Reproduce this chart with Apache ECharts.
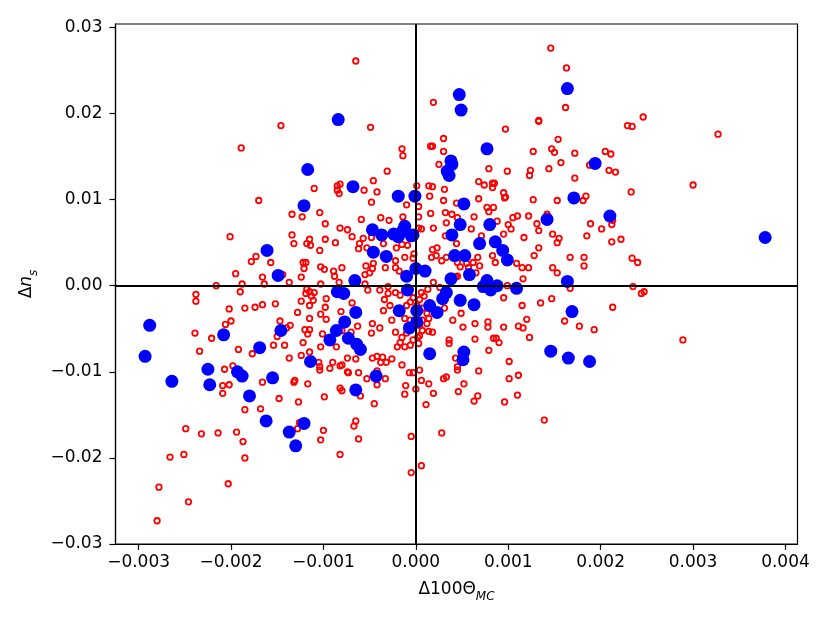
<!DOCTYPE html>
<html>
<head>
<meta charset="utf-8">
<script src="https://cdn.jsdelivr.net/npm/echarts@6/dist/echarts.min.js"></script>
<style>
  html, body { margin: 0; padding: 0; background: #fff; }
  #chart { width: 830px; height: 623px; }
</style>
</head>
<body>
<div id="chart"></div>
<script>
"use strict";

// tick positions
var xTicks = [-0.003, -0.002, -0.001, 0.000, 0.001, 0.002, 0.003, 0.004];
var yTicks = [-0.03, -0.02, -0.01, 0.00, 0.01, 0.02, 0.03];

// open red circles  [d100theta, dns]
var openPoints = [
  [-0.00146,0.0186],[-0.00189,0.016],[-0.0011,0.0113],[-0.00085,0.0116],[-0.00085,0.0111],[-0.00083,0.0107],[-0.0017,0.0099],
  [-0.00065,0.0261],[0.00146,0.0276],[0.00163,0.0253],[0.00019,0.0213],[-0.00049,0.0184],[0.00162,0.0207],[0.00097,0.0182],
  [0.00133,0.0192],[0.00133,0.0191],[0.0003,0.0171],[0.00016,0.0162],[0.00018,0.0162],[0.0003,0.0156],[-0.00015,0.0159],
  [-0.00014,0.0151],[0.00154,0.017],[0.00127,0.0156],[0.00147,0.0159],[0.0015,0.0155],[0.00157,0.0143],[0.00025,0.0141],
  [-0.00031,0.0133],[0.00079,0.0136],[0.00099,0.0133],[0.00124,0.0134],[0.00123,0.0128],[0.00144,0.0136],[-0.00046,0.0122],
  [-0.00056,0.0111],[-0.00042,0.0109],[0.00001,0.0116],[0.00014,0.0116],[0.00018,0.0115],[0.00031,0.0112],[0.00015,0.0104],
  [0.00068,0.0121],[0.00074,0.0117],[0.00083,0.0119],[0.00085,0.0119],[0.00083,0.0114],[0.00095,0.0108],[0.00097,0.0103],
  [-0.00082,0.0118],[0.00127,0.01],[0.00153,0.0099],[0.00172,0.0125],[0.00172,0.0154],
  [0.00246,0.0196],[0.00229,0.0186],[0.00234,0.0185],[0.00327,0.0176],[0.00205,0.0156],[0.00211,0.0153],[0.00188,0.014],
  [0.00209,0.0134],[0.00216,0.0132],[0.003,0.0117],[0.00233,0.0109],[0.00184,0.0104],
  [-0.00134,0.0083],[-0.00123,0.008],[-0.00104,0.0085],[-0.00098,0.0072],[-0.00082,0.0067],[-0.00201,0.0057],[-0.00134,0.0059],
  [-0.00132,0.0049],[-0.00118,0.0049],[-0.00115,0.0054],[-0.00114,0.0047],[-0.00098,0.0054],[-0.00087,0.005],[-0.00104,0.0041],
  [-0.00173,0.0034],[-0.00178,0.0028],[-0.00157,0.0027],[-0.00122,0.0027],[-0.00119,0.0027],[-0.00121,0.002],[-0.00103,0.0022],
  [-0.00099,0.0019],[-0.00089,0.0017],[-0.00088,0.0011],[-0.0008,0.0021],[-0.00195,0.0014],[-0.00166,0.001],[-0.00164,0.0002],
  [-0.00144,0.0013],[-0.00137,0.0004],[-0.00124,0.001],[-0.00103,0.0002],[-0.00083,0.0004],[-0.00216,0.0],[-0.00188,0.0002],
  [-0.0019,-0.0007],[-0.00238,-0.001],[-0.00238,-0.0018],[-0.00118,-0.0004],[-0.00115,-0.0007],[-0.0011,-0.0008],[-0.00119,-0.0009],
  [-0.00113,-0.0012],[-0.00111,-0.0017],[-0.00097,-0.0015],[-0.00124,-0.0018],[-0.00115,-0.0023],[-0.00098,-0.0025],[-0.00202,-0.0027],
  [-0.00185,-0.0026],[-0.00174,-0.0025],[-0.00166,-0.0022],[-0.00152,-0.0021],[-0.00128,-0.0031],[-0.00103,-0.0033],[-0.00097,-0.0039],
  [-0.00081,-0.003],[-0.00115,-0.0038],[-0.002,-0.0041],[-0.00206,-0.0045],[-0.00147,-0.0041],[-0.00136,-0.0046],[-0.0014,-0.0049],
  [-0.0012,-0.0051],[-0.00115,-0.0051],[-0.00117,-0.0056],[-0.00101,-0.0056],[-0.00239,-0.0055],[-0.00221,-0.0061],[-0.0015,-0.0059],
  [-0.00122,-0.0066],[-0.00154,-0.0069],[-0.00142,-0.0069],[-0.00103,-0.0071],[-0.00086,-0.0071],[-0.00192,-0.0074],[-0.00234,-0.0076],
  [-0.00177,-0.0079],[-0.00115,-0.0077],[-0.00124,-0.0081],[-0.00137,-0.0084],[-0.00105,-0.0089],[-0.0009,-0.0089],[-0.00104,-0.0094],
  [-0.00093,-0.0096],[-0.00082,-0.0093],[-0.00207,-0.0097],[-0.00198,-0.0093],
  [-0.00166,-0.0112],[-0.00209,-0.0116],[-0.00202,-0.0115],[-0.00209,-0.0125],[-0.00132,-0.0112],[-0.00131,-0.011],[-0.00117,-0.0114],
  [-0.00104,-0.0098],[-0.00082,-0.0119],[-0.0008,-0.0122],[-0.00148,-0.0131],[-0.00127,-0.0135],[-0.00099,-0.0129],[-0.00185,-0.0144],
  [-0.00168,-0.0143],[-0.00126,-0.0159],[-0.00128,-0.0166],[-0.00249,-0.0166],[-0.00232,-0.0172],[-0.00214,-0.0171],[-0.00194,-0.017],
  [-0.00187,-0.0181],[-0.001,-0.0168],[-0.00103,-0.0179],[-0.00082,-0.0196],[-0.00266,-0.0199],[-0.00251,-0.0196],[-0.00185,-0.02],
  [-0.00203,-0.023],[-0.00278,-0.0234],[-0.00246,-0.0251],[-0.0028,-0.0273],
  [-0.00073,-0.0101],[-0.00062,-0.0101],[-0.00053,-0.0108],[-0.00042,-0.0115],[-0.00033,-0.0108],[-0.0006,-0.0128],[-0.00045,-0.0137],
  [-0.00007,-0.0101],[-0.00003,-0.0101],[0.00004,-0.0098],[-0.00011,-0.0116],[-0.00012,-0.0126],[0.0,-0.012],[0.00006,-0.011],
  [0.00014,-0.0114],[0.00019,-0.0125],[0.00011,-0.0138],[0.0003,-0.0108],[0.00033,-0.0106],[0.00046,-0.0123],[0.00052,-0.0114],
  [0.00045,-0.0098],[0.00063,-0.0134],[0.00067,-0.0128],[0.00068,-0.0099],[0.00096,-0.0135],[0.00101,-0.0108],[0.00111,-0.0104],
  [0.0011,-0.0127],[0.00139,-0.0156],[-0.00065,-0.0157],[-0.00067,-0.0163],[-0.00062,-0.0178],[-0.00005,-0.0175],[0.00028,-0.0171],
  [0.00006,-0.0209],[-0.00005,-0.0217],
  [0.00181,0.0099],[0.00213,0.0076],[0.00212,0.0071],[0.00189,0.0072],[0.00201,0.0066],[0.00185,0.0058],[0.00212,0.0051],
  [0.00222,0.0054],[0.00167,0.0033],[0.00182,0.0033],[0.00182,0.0023],[0.00234,0.0032],[0.0024,0.0027],[0.00235,-0.0001],
  [0.00244,-0.0009],[0.00247,-0.0007],[0.00167,-0.0003],[0.00213,-0.0025],[0.00177,-0.0047],[0.00193,-0.0051],[0.00289,-0.0063],
  [-0.00048,0.0097],[-0.0001,0.0094],[0.00003,0.0092],[0.00016,0.0084],[0.0003,0.0099],[0.00044,0.0096],[0.00068,0.0101],
  [0.00096,0.0102],[0.00077,0.0091],[0.00084,0.0091],[0.00079,0.0086],[-0.00059,0.0077],[-0.00038,0.0079],[-0.00029,0.0076],
  [-0.00014,0.008],[-0.00013,0.0073],[0.00003,0.008],[0.00003,0.0067],[0.00006,0.0066],[0.00019,0.0067],[0.00032,0.0085],
  [0.00039,0.0083],[0.00033,0.0073],[0.00045,0.0079],[0.00063,0.008],[0.0006,0.0066],[0.00088,0.0075],[0.001,0.0071],
  [0.00103,0.0066],[0.00105,0.0079],[0.0011,0.0081],[0.00122,0.0081],[0.00142,0.0083],[0.00131,0.0072],[0.00133,0.0064],
  [0.00148,0.006],[0.00153,0.005],[0.00155,0.0055],[0.00117,0.0056],[0.00095,0.006],[0.00071,0.0058],[0.00032,0.0058],
  [0.00044,0.0049],[-0.00074,0.0065],[-0.00069,0.0057],[-0.00057,0.0055],[-0.00048,0.0056],[-0.00061,0.0049],[-0.00053,0.0044],
  [-0.00062,0.0043],[-0.00035,0.0049],[-0.00021,0.0044],[-0.00015,0.0048],[-0.00009,0.0047],[-0.00002,0.0037],[-0.00003,0.0032],
  [-0.00012,0.0033],[-0.00022,0.0029],[-0.00022,0.0021],[-0.00018,0.0017],[-0.00033,0.0021],[-0.00046,0.0026],[-0.00047,0.002],
  [-0.00054,0.0023],[-0.0005,0.0015],[-0.00055,0.0013],[0.00018,0.0042],[0.00023,0.0044],[0.00017,0.0033],[0.00022,0.0035],
  [0.00028,0.0029],[0.00033,0.0033],[0.00045,0.0027],[0.00055,0.0026],[0.00062,0.0027],[0.00057,0.0021],[0.00067,0.0033],
  [0.00069,0.0023],[0.00065,0.0015],[0.00048,0.0022],[0.00043,0.001],[0.00045,0.0011],[0.00083,0.0035],[0.00086,0.0027],
  [0.00109,0.0026],[0.00115,0.0021],[0.00122,0.0021],[0.00116,0.0008],[0.00128,0.0035],[0.00133,0.0044],[0.00148,0.0021],
  [0.00153,0.0015],[0.00099,0.0],[0.00095,-0.0014],[0.00115,-0.0023],[0.00135,-0.002],[0.00147,-0.0015],[0.00161,-0.0041],
  [0.0012,-0.0039],[0.00111,-0.0047],[0.00116,-0.0049],[0.00123,-0.006],[0.00095,-0.0048],[0.00078,-0.0042],[0.00078,-0.0048],
  [0.00084,-0.0061],[0.0009,-0.0066],[0.00087,-0.0061],[0.00064,-0.0062],[0.00051,-0.0048],[0.0004,-0.004],[0.00031,-0.0026],
  [0.00049,-0.0032],[0.00064,-0.0044],[0.00036,-0.0063],[0.00036,-0.0067],[0.00079,-0.0075],[0.00101,-0.0088],[0.00045,-0.0094],
  [0.00043,-0.0084],[0.00026,-0.0002],[0.00019,0.0004],[0.00013,-0.0004],[0.00006,-0.0008],[0.00009,-0.0012],[0.00004,-0.0016],
  [-0.00003,-0.0014],[-0.00006,-0.0019],[-0.0001,-0.0023],[0.00001,-0.0023],[0.00007,-0.0026],[0.00012,-0.0032],[0.00014,-0.0038],
  [0.00007,-0.004],[0.00012,-0.0044],[0.00004,-0.0046],[0.00007,-0.0052],[0.00014,-0.0053],[0.00018,-0.0054],[0.00004,-0.0058],
  [0.00002,-0.006],[-0.00003,-0.0063],[0.00003,-0.0067],[-0.00006,-0.0069],[-0.0001,-0.0055],[-0.00006,-0.004],[-0.00012,-0.0038],
  [-0.00017,-0.0011],[-0.00022,-0.0008],[-0.0003,-0.0009],[-0.00034,-0.0016],[-0.00028,-0.0023],[-0.00035,-0.0029],[-0.00026,-0.004],
  [-0.00022,-0.0054],[-0.00015,-0.006],[-0.00017,-0.0066],[-0.00012,-0.0071],[-0.0002,-0.0071],[-0.00026,-0.0085],[-0.00036,-0.0083],
  [-0.00042,-0.0082],[-0.00047,-0.0084],[-0.00038,-0.0089],[-0.00032,-0.0089],[-0.00015,-0.0092],[-0.00042,-0.0099],[-0.00074,-0.0084],
  [-0.00065,-0.0085],[-0.0008,-0.0092],[-0.00074,-0.01],[-0.00048,-0.0055],[-0.00039,-0.0049],[-0.00047,-0.0044],[-0.00063,-0.0047],
  [-0.0007,-0.0054],[-0.0008,-0.0052],[-0.00069,-0.002],[-0.00055,0.0002],[-0.00052,-0.0005],[-0.0003,-0.0001],[-0.00039,-0.0005]
];

// filled blue dots
var filledPoints = [
  [-0.00288,-0.0046],[-0.00293,-0.0082],[-0.00264,-0.0111],[-0.00208,-0.0057],[-0.00225,-0.0097],[-0.00223,-0.0115],
  [-0.00193,-0.01],[-0.00188,-0.0105],[-0.0018,-0.0128],[-0.00169,-0.0072],[-0.00155,-0.0107],[-0.00161,0.0041],
  [-0.00149,0.0012],[-0.00146,-0.0052],[-0.00162,-0.0157],[-0.00137,-0.017],[-0.0013,-0.0186],[-0.00121,-0.016],
  [-0.00121,0.0093],[-0.00117,0.0135],[-0.00114,-0.0088],[-0.00084,0.0193],[-0.00093,-0.0063],[-0.00085,-0.0007],
  [-0.00078,-0.0009],[-0.00086,-0.0052],[-0.00077,-0.0042],[-0.00068,0.0115],[-0.00066,0.0006],[-0.00065,-0.0031],
  [-0.00065,-0.0121],[-0.00064,-0.0068],[-0.0006,-0.0074],[-0.00073,-0.0061],[-0.00047,0.0065],[-0.00046,0.0039],
  [-0.00043,-0.0105],[-0.00037,0.0059],[-0.00032,0.0034],[-0.00024,0.006],[-0.00019,0.0104],[-0.00019,0.0057],
  [-0.00014,0.0064],[-0.00012,0.0069],[-0.00005,0.0058],[-0.00001,0.0104],[-0.00018,-0.0029],[-0.0001,0.0011],
  [-0.00009,-0.0005],[-0.00007,-0.0049],[-0.00003,0.0059],[0.0,0.002],[0.00001,-0.0029],[0.00001,-0.0042],
  [0.0001,0.0017],[0.00015,-0.0023],[0.00015,-0.0079],[0.00023,-0.0031],[0.00029,-0.0015],[0.00033,-0.0008],
  [0.00034,0.0133],[0.00036,0.0128],[0.00038,0.0145],[0.00039,0.0141],[0.00039,0.0059],[0.00038,0.0008],
  [0.00042,0.0035],[0.00047,0.0222],[0.00049,0.0204],[0.00048,0.0071],[0.00048,-0.0017],[0.00051,-0.0086],
  [0.00052,-0.0077],[0.00052,0.0095],[0.00053,0.0035],[0.00058,0.0013],[0.00063,-0.0022],[0.00069,0.0049],
  [0.00073,-0.0001],[0.00077,0.0159],[0.0008,0.0071],[0.00081,-0.0005],[0.00086,0.0051],[0.00088,0.0],
  [0.00094,0.0041],[0.00099,0.003],[0.00109,-0.0003],[0.00142,0.0077],[0.00146,-0.0076],[0.00164,0.0229],
  [0.00164,0.0005],[0.00165,-0.0084],[0.00169,-0.003],[0.00171,0.0102],[0.00188,-0.0088],[0.00194,0.0142],
  [0.0021,0.0081],[0.00378,0.0056],[0.00077,0.0006]
];

var FONT = "DejaVu Sans";

function fmtTick(v, digits) {
  var s = Math.abs(v).toFixed(digits);
  return (v < 0 ? "\u2212" : "") + s;
}

var axisCommon = {
  type: "value",
  splitLine: { show: false },
  axisLine: { show: true, onZero: false, lineStyle: { color: "#000", width: 1.2 } },
  axisTick: { show: true, inside: false, length: 6, lineStyle: { color: "#000", width: 1.2 } },
  nameLocation: "middle",
  nameTextStyle: { color: "#000", fontFamily: FONT }
};

var option = {
  animation: false,
  backgroundColor: "#fff",
  grid: {
    left: 115.5, top: 24, width: 682, height: 520,
    show: true, borderColor: "#000", borderWidth: 1.2, backgroundColor: "transparent"
  },
  xAxis: Object.assign({}, axisCommon, {
    min: -0.00325, max: 0.00413,
    axisTick: Object.assign({}, axisCommon.axisTick, { customValues: xTicks }),
    axisLabel: {
      customValues: xTicks, margin: 10, color: "#000", fontSize: 17, fontFamily: FONT,
      formatter: function (v) { return fmtTick(v, 3); }
    },
    name: "{a|\u0394100\u0398}{s|MC}",
    nameGap: 33,
    nameTextStyle: {
      color: "#000", fontFamily: FONT,
      rich: {
        a: { fontSize: 17, fontFamily: FONT, color: "#000", lineHeight: 26, verticalAlign: "middle" },
        s: { fontSize: 12, fontFamily: FONT, color: "#000", fontStyle: "italic", lineHeight: 12, verticalAlign: "bottom" }
      }
    }
  }),
  yAxis: Object.assign({}, axisCommon, {
    min: -0.03, max: 0.0304,
    axisTick: Object.assign({}, axisCommon.axisTick, { customValues: yTicks }),
    axisLabel: {
      customValues: yTicks, margin: 13, color: "#000", fontSize: 17, fontFamily: FONT,
      formatter: function (v) { return fmtTick(v, 2); }
    },
    name: "{a|\u0394}{i|n}{s|s}",
    nameGap: 68,
    nameTextStyle: {
      color: "#000", fontFamily: FONT,
      rich: {
        a: { fontSize: 17, fontFamily: FONT, color: "#000", lineHeight: 26, verticalAlign: "middle" },
        i: { fontSize: 17, fontFamily: FONT, color: "#000", fontStyle: "italic", lineHeight: 26, verticalAlign: "middle" },
        s: { fontSize: 12, fontFamily: FONT, color: "#000", fontStyle: "italic", lineHeight: 12, verticalAlign: "bottom" }
      }
    }
  }),
  series: [
    {
      name: "all",
      type: "scatter",
      data: openPoints,
      symbol: "circle",
      symbolSize: 5.5,
      itemStyle: { color: "transparent", borderColor: "#ff0000", borderWidth: 1.8, opacity: 1 },
      z: 2,
      markLine: {
        silent: true,
        symbol: "none",
        label: { show: false },
        lineStyle: { color: "#000", width: 2, type: "solid" },
        data: [{ xAxis: 0 }, { yAxis: 0 }]
      }
    },
    {
      name: "selected",
      type: "scatter",
      data: filledPoints,
      symbol: "circle",
      symbolSize: 13,
      itemStyle: { color: "#0000ff", opacity: 1 },
      z: 3
    }
  ]
};

var myChart = echarts.init(document.getElementById("chart"), null, { renderer: "canvas" });
myChart.setOption(option);
</script>
</body>
</html>
